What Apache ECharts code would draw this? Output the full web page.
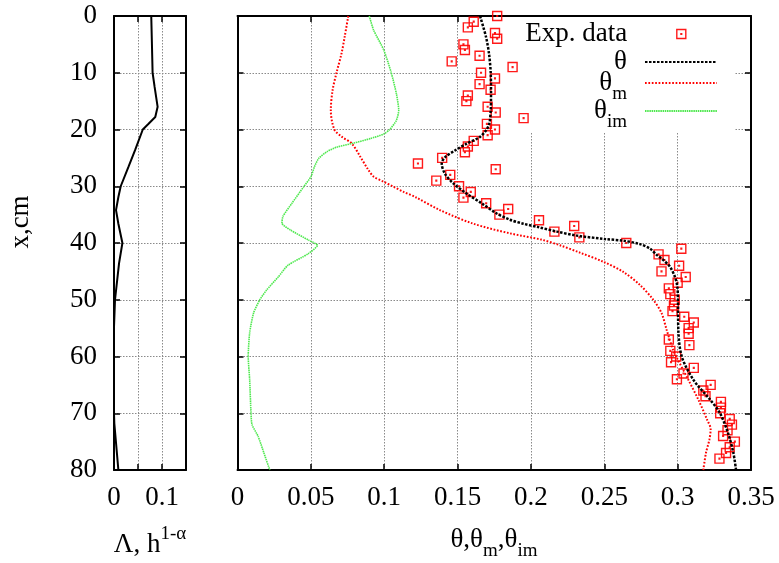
<!DOCTYPE html>
<html>
<head>
<meta charset="utf-8">
<script src="https://cdn.jsdelivr.net/npm/echarts@6/dist/echarts.min.js"></script>
<style>
  html, body { margin: 0; padding: 0; background: #fff; }
  #chart { width: 779px; height: 563px; }
</style>
</head>
<body>
<div id="chart"></div>
<script>
// Profiles along depth x (cm).

// Left panel: Λ, h^(1-α)
const lambdaDepth = [0, 4.9, 10, 12.5, 16, 17.8, 19, 20, 23.6, 26.6, 30, 31.9, 34.2, 36.6, 40, 43.6, 50, 54.8, 70, 71.8, 80];
const lambdaValue = [0.0776, 0.079, 0.0804, 0.0846, 0.0909, 0.086, 0.072, 0.060, 0.0441, 0.0301, 0.014, 0.0091, 0.0042, 0.0091, 0.0175, 0.0105, 0.0021, 0, 0, 0.0007, 0.0091];

// Right panel: total moisture θ
const thetaDepth = [0, 3.7, 6.6, 10, 13.7, 16.6, 18.9, 20, 21.3, 22.5, 23.7, 24.9, 26.0, 27.8, 29.5, 31.3, 33.0, 34.8, 35.9, 36.6, 37.2, 38.0, 38.7, 39.3, 39.6, 40.2, 41.0, 42.1, 43.0, 44.2, 46.0, 47.7, 50, 55.5, 60, 64.1, 67.6, 70, 73.6, 77, 80];
const thetaValue = [0.1653, 0.1694, 0.1714, 0.1726, 0.1728, 0.1726, 0.1717, 0.1698, 0.1653, 0.1562, 0.1482, 0.1414, 0.1392, 0.1414, 0.1471, 0.1562, 0.1664, 0.1767, 0.1857, 0.1948, 0.205, 0.218, 0.2312, 0.2505, 0.263, 0.2743, 0.2812, 0.2857, 0.2902, 0.2948, 0.2982, 0.2998, 0.3002, 0.3005, 0.3028, 0.3107, 0.3221, 0.3289, 0.3345, 0.338, 0.3398];

// Mobile moisture θm
const thetaMDepth = [0, 3.6, 6.6, 10, 13.1, 16.6, 20, 21.3, 22.5, 24.8, 27.2, 28.3, 29.2, 30.1, 31.0, 31.9, 34.2, 36.6, 38.3, 39.4, 40.4, 41.7, 43.3, 45.1, 47.4, 50, 52.4, 55.3, 58.9, 60.5, 64.1, 67.6, 71.2, 72.8, 74.7, 77, 80];
const thetaMValue = [0.0755, 0.0731, 0.0709, 0.0675, 0.0648, 0.0636, 0.066, 0.0712, 0.078, 0.0837, 0.0894, 0.0928, 0.0996, 0.1064, 0.1133, 0.1212, 0.138, 0.1607, 0.1857, 0.207, 0.2198, 0.2334, 0.2493, 0.263, 0.2743, 0.2834, 0.2891, 0.2925, 0.297, 0.300, 0.3073, 0.3141, 0.3202, 0.3225, 0.3216, 0.3193, 0.3175];

// Immobile moisture θim
const thetaImDepth = [0, 2.5, 6.0, 10, 13.7, 16.6, 18.4, 20, 20.8, 21.6, 22.4, 23.1, 23.9, 25.1, 26.6, 28.3, 30.1, 33.0, 35.3, 36.5, 37.7, 39.5, 40.4, 41.9, 43.9, 46.0, 48.3, 50, 52.3, 55.8, 60, 64.1, 70, 72, 74.1, 77, 80];
const thetaImValue = [0.0898, 0.0928, 0.0997, 0.1048, 0.1083, 0.1099, 0.1083, 0.1038, 0.0996, 0.0905, 0.0792, 0.0678, 0.061, 0.0553, 0.0524, 0.0501, 0.0451, 0.0371, 0.031, 0.0303, 0.036, 0.0485, 0.0545, 0.0482, 0.0345, 0.0277, 0.0198, 0.0152, 0.011, 0.0083, 0.0073, 0.0083, 0.0092, 0.0099, 0.0141, 0.018, 0.022];

// Measured moisture
const expDepth = [0, 1, 2, 3, 4, 5, 6, 7, 8, 9,
  10, 11, 12, 13, 14, 15, 16, 17, 18, 19,
  20, 21, 22, 23, 24, 25, 26, 27, 28, 29,
  30, 31, 32, 33, 34, 35, 36, 37, 38, 39,
  40, 41, 42, 43, 44, 45, 46, 47, 48, 49,
  50, 51, 52, 53, 54, 55, 56, 57, 58, 59,
  60, 61, 62, 63, 64, 65, 66, 67, 68, 69,
  70, 71, 72, 73, 74, 75, 76, 77, 78];
const expTheta = [0.177, 0.161, 0.157, 0.1755, 0.177, 0.154, 0.155, 0.165, 0.146, 0.1875,
  0.166, 0.1755, 0.165, 0.1725, 0.157, 0.156, 0.1705, 0.176, 0.195, 0.170,
  0.1755, 0.1705, 0.161, 0.157, 0.155, 0.1395, 0.123, 0.176, 0.145, 0.1355,
  0.151, 0.159, 0.154, 0.1695, 0.1845, 0.1785, 0.2055, 0.2295, 0.216, 0.233,
  0.265, 0.3025, 0.287, 0.291, 0.301, 0.289, 0.3055, 0.300, 0.294, 0.295,
  0.298, 0.2975, 0.2965, 0.3045, 0.311, 0.3075, 0.3075, 0.294, 0.308, 0.295,
  0.299, 0.2955, 0.311, 0.304, 0.2995, 0.3225, 0.3175, 0.319, 0.3295, 0.3295,
  0.329, 0.3355, 0.337, 0.334, 0.331, 0.339, 0.3355, 0.333, 0.3285];

// Axis ticks
const depthTicks = { min: 0, max: 80, interval: 10 };
const lambdaTicks = { min: 0, max: 0.15, interval: 0.05 };
const thetaTicks = { min: 0, max: 0.35, interval: 0.05 };

const FONT = 'Liberation Serif';
const pairs = (vals, depths) => vals.map((v, i) => [v, depths[i]]);

const frameLine = { show: true, onZero: false, lineStyle: { color: '#000', width: 2 } };
const inTick = { show: true, inside: true, length: 6, lineStyle: { color: '#000', width: 1.5 } };
const gridLine = { show: true, showMinLine: false, showMaxLine: false,
  lineStyle: { color: '#8a8a8a', width: 1, type: [1.5, 1.5] } };
const noLine = { show: false };
const labelStyle = { fontFamily: FONT, fontSize: 27, color: '#000' };

function xAxisPair(grid, ticks, labelFmt) {
  return [
    Object.assign({ gridIndex: grid, type: 'value', position: 'bottom',
      axisLine: frameLine, axisTick: inTick, splitLine: gridLine,
      axisLabel: Object.assign({ margin: 14, formatter: labelFmt }, labelStyle) }, ticks),
    Object.assign({ gridIndex: grid, type: 'value', position: 'top',
      axisLine: frameLine, axisTick: inTick, splitLine: noLine,
      axisLabel: { show: false } }, ticks)
  ];
}
function yAxisPair(grid, withLabels) {
  return [
    Object.assign({ gridIndex: grid, type: 'value', inverse: true, position: 'left',
      axisLine: frameLine, axisTick: inTick, splitLine: gridLine,
      axisLabel: withLabels ? Object.assign({ margin: 17 }, labelStyle) : { show: false } }, depthTicks),
    Object.assign({ gridIndex: grid, type: 'value', inverse: true, position: 'right',
      axisLine: frameLine, axisTick: inTick, splitLine: noLine,
      axisLabel: { show: false } }, depthTicks)
  ];
}

const lambdaFmt = v => (Math.round(v * 100) % 10 === 0 ? String(Math.round(v * 10) / 10) : '');
const thetaFmt = v => String(Math.round(v * 100) / 100);

const legendText = {
  'Exp. data': '{t|Exp. data}',
  'θ': '{t|θ}',
  'θm': '{t|θ}{s|m}',
  'θim': '{t|θ}{s|im}'
};
// line samples only: hide the marker that line legends add in the middle
const lineKeyItem = { color: 'rgba(0,0,0,0)', borderColor: 'rgba(0,0,0,0)', borderWidth: 0, opacity: 0 };
function legendFor(name, top, extra) {
  return Object.assign({
    data: [name], orient: 'vertical', align: 'right', right: 61, top: top,
    itemWidth: 72, itemHeight: 10, padding: 0, selectedMode: false,
    formatter: n => legendText[n],
    itemStyle: lineKeyItem,
    textStyle: {
      fontFamily: FONT, fontSize: 27, color: '#000', padding: [0, 13, 0, 0],
      rich: {
        t: { fontFamily: FONT, fontSize: 27, color: '#000' },
        s: { fontFamily: FONT, fontSize: 19, color: '#000', padding: [22, 0, 0, 0] }
      }
    }
  }, extra || {});
}

const squareSymbol = 'path://M0,0H10V10H0ZM4.6,4.6H5.4V5.4H4.6Z';

const chart = echarts.init(document.getElementById('chart'), null, { renderer: 'canvas' });
chart.setOption({
  backgroundColor: '#fff',
  animation: false,
  grid: [
    { left: 114, top: 16, width: 72, height: 454, outerBoundsMode: 'none', containLabel: false },
    { left: 237.5, top: 16, width: 513.5, height: 454, outerBoundsMode: 'none', containLabel: false }
  ],
  xAxis: [].concat(xAxisPair(0, lambdaTicks, lambdaFmt), xAxisPair(1, thetaTicks, thetaFmt)),
  yAxis: [].concat(yAxisPair(0, true), yAxisPair(1, false)),
  legend: [
    // the square sample sits mid-slot, so the box edge is the square itself
    legendFor('Exp. data', 20.5, { itemHeight: 9, right: 92.5,
      itemStyle: { color: 'rgba(0,0,0,0)', borderColor: '#ff0000', borderWidth: 1.4 } }),
    legendFor('θ', 48.5),
    legendFor('θm', 69.5),
    legendFor('θim', 97.5)
  ],
  graphic: [
    // key area keeps the grid clear behind the legend
    { type: 'rect', z: 1, silent: true,
      shape: { x: 477, y: 17, width: 258, height: 116 }, style: { fill: '#fff' } },
    { type: 'text', x: 21, y: 222, rotation: Math.PI / 2, z: 5,
      style: { text: 'x,cm', fontFamily: FONT, fontSize: 27, fill: '#000',
        align: 'center', verticalAlign: 'middle', textAlign: 'center', textVerticalAlign: 'middle' } },
    { type: 'text', x: 150, y: 545, z: 5,
      style: { text: '{m|Λ, h}{s|1-α}', fill: '#000',
        align: 'center', verticalAlign: 'middle', textAlign: 'center', textVerticalAlign: 'middle',
        rich: {
          m: { fontFamily: FONT, fontSize: 27, fill: '#000' },
          s: { fontFamily: FONT, fontSize: 19, fill: '#000', padding: [0, 0, 21, 0] }
        } } },
    { type: 'text', x: 494, y: 540, z: 5,
      style: { text: '{m|θ,θ}{s|m}{m|,θ}{s|im}', fill: '#000',
        align: 'center', verticalAlign: 'middle', textAlign: 'center', textVerticalAlign: 'middle',
        rich: {
          m: { fontFamily: FONT, fontSize: 27, fill: '#000' },
          s: { fontFamily: FONT, fontSize: 19, fill: '#000', padding: [22, 0, 0, 0] }
        } } }
  ],
  series: [
    {
      name: 'Λ', type: 'line', xAxisIndex: 0, yAxisIndex: 0,
      data: pairs(lambdaValue, lambdaDepth),
      symbol: 'none', showSymbol: false, silent: true,
      lineStyle: { color: '#000', width: 2 }
    },
    {
      name: 'Exp. data', type: 'scatter', xAxisIndex: 2, yAxisIndex: 2,
      data: pairs(expTheta, expDepth),
      symbol: squareSymbol, symbolSize: 9, silent: true,
      itemStyle: { color: 'rgba(0,0,0,0)', borderColor: '#ff0000', borderWidth: 1.4, opacity: 0.9 }
    },
    {
      name: 'θ', type: 'line', xAxisIndex: 2, yAxisIndex: 2,
      data: pairs(thetaValue, thetaDepth),
      symbol: 'none', showSymbol: false, smooth: 0.3, silent: true,
      itemStyle: { color: '#000' },
      lineStyle: { color: '#000', width: 2.5, type: [2.5, 1.5] }
    },
    {
      name: 'θm', type: 'line', xAxisIndex: 2, yAxisIndex: 2,
      data: pairs(thetaMValue, thetaMDepth),
      symbol: 'none', showSymbol: false, smooth: 0.3, silent: true,
      itemStyle: { color: '#ff0000' },
      lineStyle: { color: '#ff0000', width: 2, type: [1.7, 1.7] }
    },
    {
      name: 'θim', type: 'line', xAxisIndex: 2, yAxisIndex: 2,
      data: pairs(thetaImValue, thetaImDepth),
      symbol: 'none', showSymbol: false, smooth: 0.2, silent: true,
      itemStyle: { color: '#4ee84e' },
      lineStyle: { color: '#4ee84e', width: 1.6, type: [1.5, 0.7] }
    }
  ]
});
</script>
</body>
</html>
